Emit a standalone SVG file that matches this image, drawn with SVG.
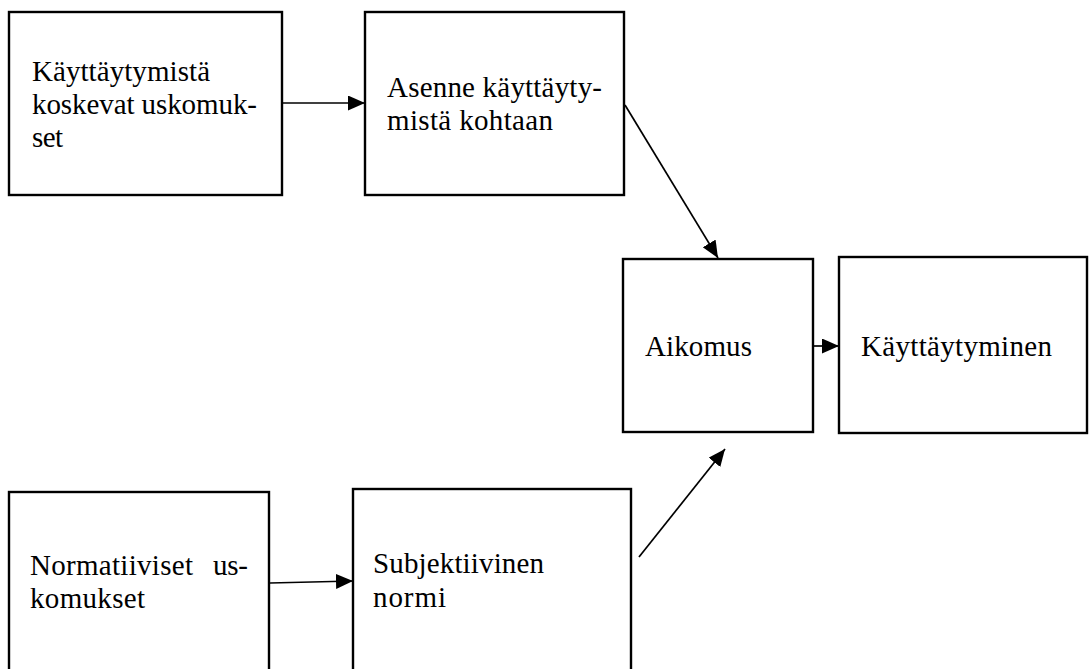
<svg xmlns="http://www.w3.org/2000/svg" width="1089" height="669" viewBox="0 0 1089 669">
<style>
.box{fill:#fff;stroke:#000;stroke-width:2.4}
.conn{stroke:#000;stroke-width:1.7;fill:none;marker-end:url(#ah)}
text{font-family:"Liberation Serif","DejaVu Serif",serif;font-size:29px;fill:#000}
</style>
<defs>
<marker id="ah" markerUnits="userSpaceOnUse" markerWidth="20" markerHeight="16" refX="17" refY="7.5" orient="auto">
<path d="M0,0 L17,7.5 L0,15 Z" fill="#000"/>
</marker>
</defs>
<rect width="1089" height="669" fill="#fff"/>
<g id="n1"><rect class="box" x="9" y="12" width="273" height="183"/>
<text x="32" y="81" textLength="178">Käyttäytymistä</text>
<text x="32" y="114" textLength="225">koskevat uskomuk-</text>
<text x="32" y="147" textLength="31">set</text></g>
<g id="n2"><rect class="box" x="365" y="12" width="259" height="183"/>
<text x="387" y="97" textLength="215">Asenne käyttäyty-</text>
<text x="387" y="130" textLength="166">mistä kohtaan</text></g>
<g id="n3"><rect class="box" x="623" y="259" width="190" height="173"/>
<text x="645" y="356" textLength="107">Aikomus</text></g>
<g id="n4"><rect class="box" x="839" y="257" width="248" height="176"/>
<text x="861" y="356" textLength="191">Käyttäytyminen</text></g>
<g id="n5"><rect class="box" x="9" y="492" width="260" height="190"/>
<text y="575"><tspan x="30" textLength="163">Normatiiviset</tspan><tspan x="213" textLength="35">us-</tspan></text>
<text x="30" y="608" textLength="115">komukset</text></g>
<g id="n6"><rect class="box" x="353" y="489" width="278" height="193"/>
<text x="373" y="573" textLength="171">Subjektiivinen</text>
<text x="373" y="607" textLength="73">normi</text></g>
<g id="connectors">
<line class="conn" x1="282" y1="103" x2="365" y2="103"/>
<line class="conn" x1="625" y1="105" x2="718" y2="258"/>
<line class="conn" x1="813" y1="346" x2="839" y2="346"/>
<line class="conn" x1="270" y1="583" x2="353" y2="581"/>
<line class="conn" x1="639" y1="557" x2="725" y2="449"/>
</g>
</svg>
